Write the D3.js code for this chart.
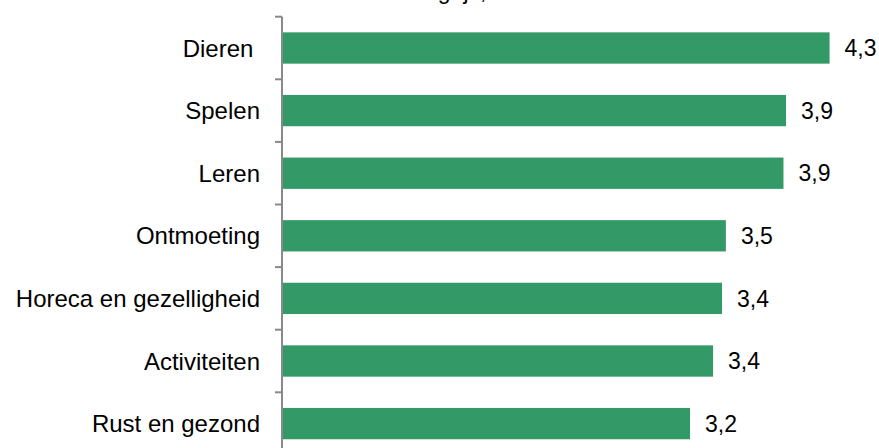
<!DOCTYPE html>
<html>
<head>
<meta charset="utf-8">
<script src="https://cdn.jsdelivr.net/npm/d3@7"></script>
<style>
  body { margin: 0; background: #fff; }
  svg { display: block; font-family: "Liberation Sans", Arial, sans-serif; }
  text { white-space: pre; }
</style>
</head>
<body>
<svg width="879" height="448"></svg>
<script>
const categories = ["Dieren ", "Spelen", "Leren", "Ontmoeting", "Horeca en gezelligheid", "Activiteiten", "Rust en gezond"];
const values = [4.27, 3.93, 3.91, 3.46, 3.43, 3.36, 3.18];
const title = "Hoe belangrijk, schaal 1-5";

const width = 879, height = 448;
const axisX = 282;

const svg = d3.select("svg");

let x = d3.scaleLinear()
  .domain([0, 5])
  .range([axisX + 1, axisX + 1 + 640]);
let y = d3.scaleBand()
  .domain(categories)
  .range([16.7, 16.7 + 7 * 62.6])
  .paddingInner(0.5)
  .paddingOuter(0.25);

const fmt = v => d3.format(".1f")(v).replace(".", ",");
const data = categories.map((c, i) => ({ cat: c, val: values[i] }));

// cut-off title at the very top
svg.append("text")
    .attr("x", 333)
    .attr("y", -1)
    .attr("font-size", 23)
    .attr("fill", "#000")
    .text(title);

// bars
svg.selectAll("rect.bar")
    .data(data)
  .enter().append("rect")
    .attr("class", "bar")
    .attr("x", x(0))
    .attr("y", d => y(d.cat))
    .attr("width", d => x(d.val) - x(0))
    .attr("height", y.bandwidth())
    .attr("fill", "#339966");

// axis line + ticks at band boundaries
const tickYs = categories.map(c => y(c) - y.step() * y.paddingInner() / 2);
svg.append("line")
    .attr("x1", axisX).attr("x2", axisX)
    .attr("y1", tickYs[0]).attr("y2", height)
    .attr("stroke", "#898989")
    .attr("stroke-width", 2);
svg.selectAll("line.tick")
    .data(tickYs)
  .enter().append("line")
    .attr("class", "tick")
    .attr("x1", axisX - 7).attr("x2", axisX)
    .attr("y1", d => d).attr("y2", d => d)
    .attr("stroke", "#898989")
    .attr("stroke-width", 2);

// category labels
svg.selectAll("text.cat")
    .data(data)
  .enter().append("text")
    .attr("class", "cat")
    .attr("x", 260)
    .attr("y", d => y(d.cat) + y.bandwidth() / 2)
    .attr("dy", "0.36em")
    .attr("text-anchor", "end")
    .attr("font-size", 24)
    .attr("fill", "#000")
    .text(d => d.cat);

// value labels
svg.selectAll("text.val")
    .data(data)
  .enter().append("text")
    .attr("class", "val")
    .attr("x", d => x(d.val) + 15)
    .attr("y", d => y(d.cat) + y.bandwidth() / 2)
    .attr("dy", "0.36em")
    .attr("font-size", 23)
    .attr("fill", "#000")
    .text(d => fmt(d.val));
</script>
</body>
</html>
